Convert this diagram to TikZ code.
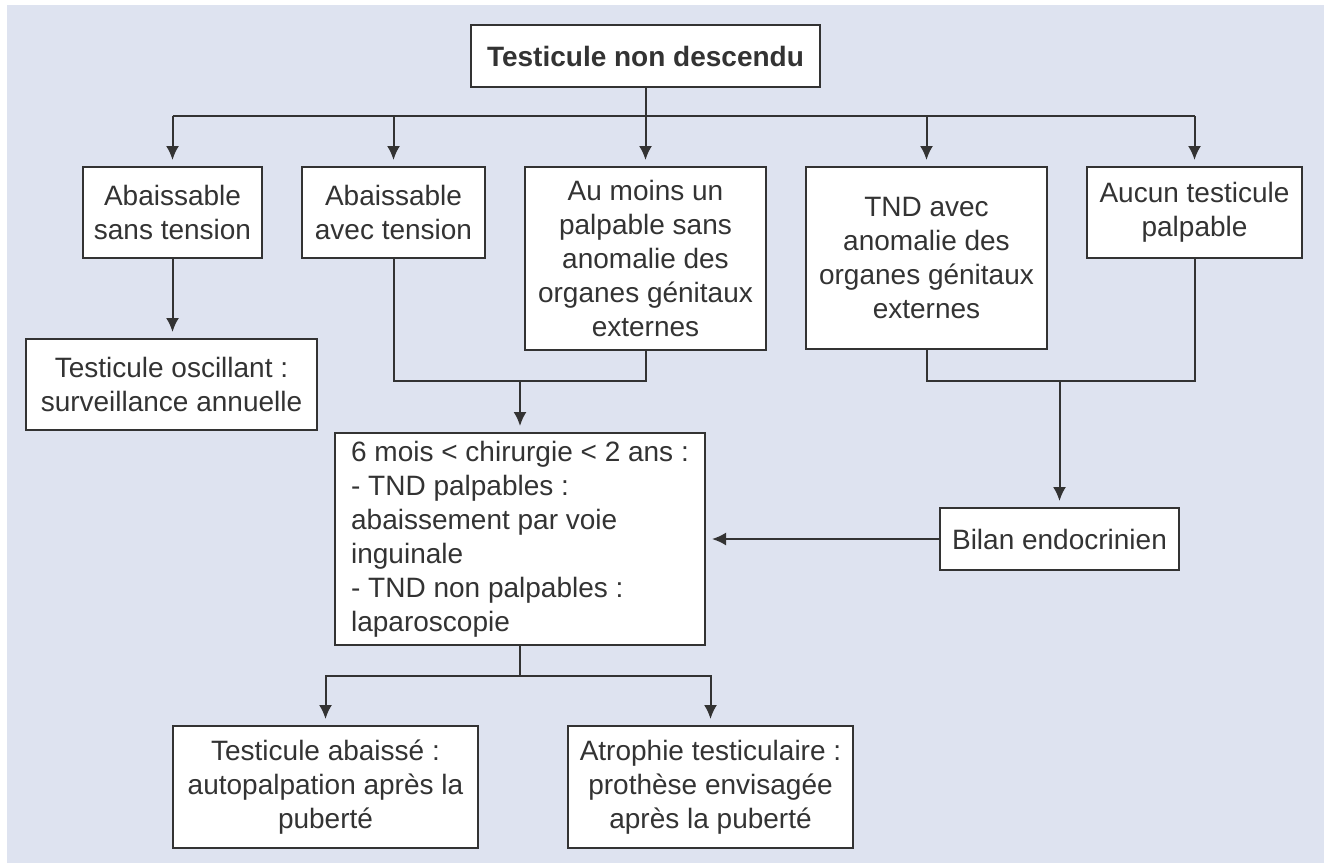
\documentclass[tikz,border=0pt]{standalone}
\usepackage{fontspec}
\setmainfont{Liberation Sans}
\usepackage{tikz}
\usetikzlibrary{positioning,arrows.meta}
\definecolor{bgblue}{HTML}{DEE3F0}
\definecolor{ink}{HTML}{333333}

\begin{document}
\begin{tikzpicture}[
  x=0.5pt, y=-0.5pt,
  box/.style={draw=ink, fill=white, line width=1pt, align=center, inner sep=3pt,
              font=\fontsize{14}{17}\selectfont, text=ink},
  title/.style={box, font=\fontsize{14}{17}\selectfont\bfseries},
  lbox/.style={box, align=left},
  arr/.style={-{Latex[length=7pt,width=6.5pt]}, line width=1pt, draw=ink, shorten >=3pt},
  link/.style={line width=1pt, draw=ink}
]
% page and panel
\useasboundingbox (0,0) rectangle (1332,863);
\fill[bgblue] (7,5) rectangle (1324,863);

\node[title, minimum width=174.5pt, minimum height=31pt] (tnd) at (645.5,56) {Testicule non descendu};

\node[box, minimum width=89.5pt, minimum height=45.5pt] (sans) at (172.5,212.5) {Abaissable\\sans tension};
\node[box, minimum width=91.5pt, minimum height=45.5pt] (avec) at (393.5,212.5) {Abaissable\\avec tension};
\node[box, minimum width=120.5pt, minimum height=91.5pt] (palp) at (645.5,258.5)
   {Au moins un\\palpable sans\\anomalie des\\organes génitaux\\externes};
\node[box, minimum width=120.5pt, minimum height=91pt] (anom) at (926.5,258)
   {TND avec\\anomalie des\\organes génitaux\\externes};
\node[box, minimum width=107.5pt, minimum height=45.5pt] (aucun) at (1194.5,212.5) {Aucun testicule\\palpable};

\node[box, minimum width=145.5pt, minimum height=45.5pt] (oscil) at (171.5,384.5)
   {Testicule oscillant :\\surveillance annuelle};
\node[lbox, minimum width=185pt, minimum height=106pt] (chir) at (520,539)
   {6 mois < chirurgie < 2 ans :\\- TND palpables :\\abaissement par voie\\inguinale\\- TND non palpables :\\laparoscopie};
\node[box, minimum width=119.5pt, minimum height=31pt] (bilan) at (1059.5,539) {Bilan endocrinien};

\node[box, minimum width=152.5pt, minimum height=61pt] (abais) at (325.5,787)
   {Testicule abaissé :\\autopalpation après la\\puberté};
\node[box, minimum width=142.5pt, minimum height=61pt] (atro) at (710.5,787)
   {Atrophie testiculaire :\\prothèse envisagée\\après la puberté};

% branching from the top box
\coordinate (bus) at (tnd.south |- 0,116);
\draw[link] (tnd.south) -- (bus);
\draw[link] (sans.north |- bus) -- (aucun.north |- bus);
\foreach \n in {sans,avec,palp,anom,aucun}
  \draw[arr] (\n.north |- bus) -- (\n.north);

\draw[arr] (sans.south) -- (sans.south |- oscil.north);

% merges
\coordinate (jac) at (chir.north |- 0,381);
\draw[link] (avec.south) |- (jac) -| (palp.south);
\draw[arr] (jac) -- (chir.north);

\coordinate (jae) at (bilan.north |- 0,381);
\draw[link] (anom.south) |- (jae) -| (aucun.south);
\draw[arr] (jae) -- (bilan.north);

\draw[arr] (bilan.west) -- (chir.east);

% split after surgery
\coordinate (split) at (chir.south |- 0,676);
\draw[link] (chir.south) -- (split);
\draw[arr] (split) -| (abais.north);
\draw[arr] (split) -| (atro.north);
\end{tikzpicture}
\end{document}
